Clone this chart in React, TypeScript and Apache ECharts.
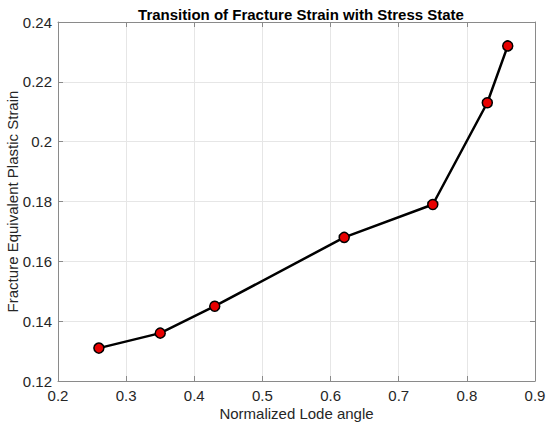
import React, { useEffect, useRef } from "react";
import * as echarts from "echarts";

const lodeAngle = [0.26, 0.35, 0.43, 0.62, 0.75, 0.83, 0.86];
const fractureStrain = [0.131, 0.136, 0.145, 0.168, 0.179, 0.213, 0.232];
const xTicks = [0.2, 0.3, 0.4, 0.5, 0.6, 0.7, 0.8, 0.9];
const yTicks = [0.12, 0.14, 0.16, 0.18, 0.2, 0.22, 0.24];

const font = "Liberation Sans, Arial, Helvetica, sans-serif";
const fmt = (v: number) => String(Math.round(v * 1000) / 1000);

export default function App() {
  const ref = useRef<HTMLDivElement>(null);
  useEffect(() => {
    if (!ref.current) return;
    const chart = echarts.init(ref.current, undefined, { renderer: "svg" });
    const axisLine = { show: true, lineStyle: { color: "#8a8a8a", width: 1 } };
    const tick = { show: true, inside: true, length: 5, lineStyle: { color: "#8a8a8a", width: 1 } };
    const grid = { show: true, lineStyle: { color: "#e6e6e6", width: 1 } };
    const label = { color: "#262626", fontSize: 15, fontFamily: font, formatter: fmt };
    chart.setOption({
      animation: false,
      backgroundColor: "#ffffff",
      title: {
        text: "Transition of Fracture Strain with Stress State",
        left: 296,
        textAlign: "center",
        top: 2,
        textStyle: { fontSize: 15, fontWeight: "bold", color: "#000", fontFamily: font },
      },
      grid: {
        left: 58,
        right: 15,
        top: 22,
        bottom: 48,
        containLabel: false,
        outerBoundsMode: "none",
      },
      xAxis: [
        {
          type: "value",
          min: xTicks[0],
          max: xTicks[xTicks.length - 1],
          interval: 0.1,
          position: "bottom",
          name: "Normalized Lode angle",
          nameLocation: "middle",
          nameGap: 25,
          nameMoveOverlap: false,
          nameTextStyle: { fontSize: 15, color: "#262626", fontFamily: font },
          axisLine,
          axisTick: tick,
          splitLine: grid,
          axisLabel: { ...label, margin: 7 },
        },
        {
          type: "value",
          min: xTicks[0],
          max: xTicks[xTicks.length - 1],
          interval: 0.1,
          position: "top",
          axisLine,
          axisTick: tick,
          splitLine: { show: false },
          axisLabel: { show: false },
        },
      ],
      yAxis: [
        {
          type: "value",
          min: yTicks[0],
          max: yTicks[yTicks.length - 1],
          interval: 0.02,
          position: "left",
          name: "Fracture Equivalent Plastic Strain",
          nameLocation: "middle",
          nameGap: 38,
          nameMoveOverlap: false,
          nameTextStyle: { fontSize: 15, color: "#262626", fontFamily: font },
          axisLine,
          axisTick: tick,
          splitLine: grid,
          axisLabel: { ...label, margin: 6 },
        },
        {
          type: "value",
          min: yTicks[0],
          max: yTicks[yTicks.length - 1],
          interval: 0.02,
          position: "right",
          axisLine,
          axisTick: tick,
          splitLine: { show: false },
          axisLabel: { show: false },
        },
      ],
      series: [
        {
          type: "line",
          data: lodeAngle.map((x, i) => [x, fractureStrain[i]]),
          xAxisIndex: 0,
          yAxisIndex: 0,
          lineStyle: { color: "#000", width: 2.5 },
          symbol: "circle",
          symbolSize: 10,
          itemStyle: { color: "#e80000", borderColor: "#000", borderWidth: 1.5 },
        },
      ],
    });
    return () => chart.dispose();
  }, []);
  return (
    <div
      ref={ref}
      style={{ position: "fixed", left: 0, top: 0, width: 550, height: 429, background: "#fff" }}
    />
  );
}
